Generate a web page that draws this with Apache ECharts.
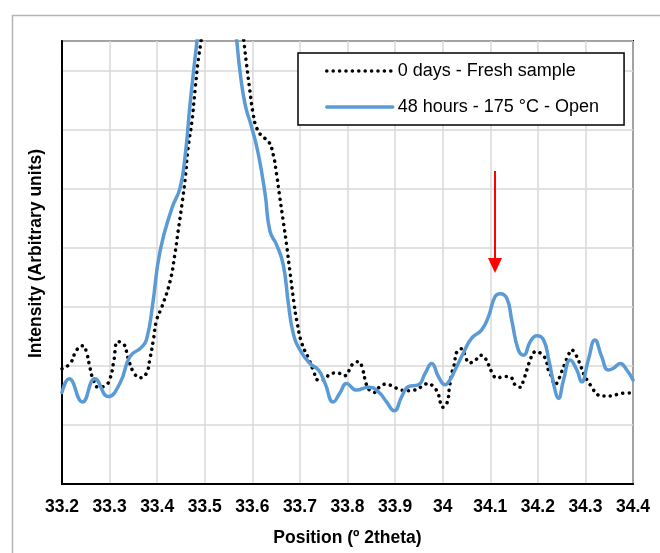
<!DOCTYPE html>
<html>
<head>
<meta charset="utf-8">
<script src="https://cdn.jsdelivr.net/npm/echarts@6/dist/echarts.min.js"></script>
<style>
html,body{margin:0;padding:0;background:#fff;}
#chart{width:660px;height:553px;}
</style>
</head>
<body>
<div id="chart"></div>
<script>
// Tick labels
const xTickLabels = ['33.2','33.3','33.4','33.5','33.6','33.7','33.8','33.9','34','34.1','34.2','34.3','34.4'];

// Series names
const seriesNames = ['0 days - Fresh sample', '48 hours - 175 °C - Open'];

// 0 days - Fresh sample (black dotted)
const freshX = [33.200,33.217,33.231,33.244,33.252,33.259,33.266,33.276,33.290,33.301,33.308,33.318,33.329,33.339,33.350,33.364,33.377,33.385,33.392,33.399,33.410,33.427,33.437,33.444,33.452,33.459,33.465,33.473,33.480,33.486,33.492,33.538,33.583,33.588,33.595,33.602,33.609,33.620,33.634,33.644,33.651,33.658,33.665,33.672,33.679,33.688,33.693,33.704,33.718,33.728,33.739,33.751,33.763,33.779,33.793,33.804,33.812,33.823,33.832,33.839,33.846,33.856,33.867,33.881,33.896,33.912,33.926,33.940,33.954,33.970,33.980,33.990,33.994,34.000,34.009,34.014,34.019,34.024,34.030,34.040,34.047,34.056,34.068,34.080,34.091,34.098,34.105,34.114,34.128,34.142,34.152,34.163,34.170,34.180,34.185,34.196,34.208,34.217,34.222,34.229,34.236,34.243,34.250,34.257,34.264,34.271,34.278,34.285,34.291,34.299,34.306,34.315,34.324,34.338,34.353,34.369,34.385,34.400];
const freshY = [1.95,2.04,2.27,2.34,2.21,1.96,1.76,1.64,1.66,1.79,2.04,2.41,2.38,2.13,1.90,1.80,1.87,2.13,2.44,2.78,3.00,3.43,3.88,4.28,4.73,5.18,5.69,6.14,6.70,7.16,7.49,10.5,7.44,7.10,6.65,6.25,6.03,5.89,5.80,5.57,5.24,4.84,4.45,4.05,3.60,3.04,2.78,2.38,2.13,1.93,1.76,1.76,1.86,1.88,1.83,1.93,2.04,2.07,1.93,1.70,1.59,1.55,1.64,1.69,1.65,1.59,1.58,1.59,1.64,1.70,1.65,1.54,1.41,1.30,1.37,1.62,1.87,2.01,2.24,2.29,2.18,2.05,2.09,2.18,2.11,1.99,1.87,1.79,1.82,1.81,1.68,1.64,1.76,2.01,2.13,2.24,2.20,2.10,1.93,1.82,1.68,1.76,1.90,2.04,2.18,2.27,2.21,2.10,1.98,1.82,1.73,1.62,1.52,1.49,1.49,1.52,1.54,1.54];

// 48 hours - 175 °C - Open (blue solid)
const openX = [33.200,33.215,33.243,33.269,33.297,33.322,33.343,33.368,33.379,33.390,33.406,33.431,33.448,33.459,33.469,33.478,33.484,33.525,33.567,33.574,33.585,33.599,33.613,33.627,33.637,33.651,33.665,33.676,33.686,33.700,33.721,33.739,33.753,33.770,33.784,33.798,33.819,33.844,33.865,33.882,33.898,33.914,33.928,33.949,33.963,33.977,33.991,34.005,34.015,34.026,34.043,34.061,34.082,34.096,34.110,34.121,34.135,34.145,34.159,34.170,34.184,34.198,34.212,34.223,34.237,34.243,34.254,34.268,34.282,34.292,34.306,34.320,34.334,34.348,34.359,34.373,34.387,34.400];
const openY = [1.55,1.78,1.39,1.78,1.48,1.71,2.16,2.32,2.49,3.01,3.94,4.67,5.01,5.57,6.42,7.10,7.52,10.5,7.52,6.99,6.42,6.03,5.57,4.90,4.28,4.05,3.71,3.04,2.55,2.27,2.04,1.93,1.70,1.39,1.54,1.70,1.59,1.64,1.56,1.39,1.24,1.48,1.65,1.68,1.87,2.04,1.82,1.68,1.76,1.93,2.21,2.47,2.61,2.83,3.17,3.22,3.14,2.78,2.27,2.18,2.41,2.51,2.44,2.10,1.56,1.45,1.76,2.10,1.93,1.73,2.10,2.44,2.16,1.93,1.96,2.04,1.93,1.76];

// Arrow annotation (data coordinates)
const arrowX = 34.11;
const arrowYStart = 5.30;
const arrowYEnd = 3.70;

function zip(xs, ys) { return xs.map((x, i) => [x, ys[i]]); }

const FONT = '"Liberation Sans", Arial, sans-serif';
const dottedStyle = {color: '#000', width: 3.5, type: [0.1, 6.3], cap: 'round'};
const solidStyle = {color: '#5B9BD5', width: 3.5, type: 'solid', cap: 'round', join: 'round'};

const chart = echarts.init(document.getElementById('chart'), null, {renderer: 'canvas'});
chart.setOption({
  animation: false,
  backgroundColor: '#ffffff',
  graphic: [{
    type: 'rect',
    left: 10, top: 13,
    shape: {x: 0, y: 0, width: 700, height: 600},
    style: {fill: 'none', stroke: '#b5b5b5', lineWidth: 1.5},
    silent: true,
    z: -10
  }],
  grid: {
    left: 62, top: 41, right: 27, bottom: 69,
    show: true, borderColor: '#000', borderWidth: 2, backgroundColor: 'transparent',
    containLabel: false
  },
  legend: {
    orient: 'vertical',
    left: 298, top: 53,
    padding: [9, 25, 9, 27],
    itemWidth: 66, itemHeight: 18, itemGap: 18,
    backgroundColor: '#fff',
    borderColor: '#000', borderWidth: 1.5,
    itemStyle: {opacity: 0},
    textStyle: {fontFamily: FONT, fontSize: 18, color: '#000'},
    data: [
      {name: seriesNames[0], lineStyle: dottedStyle},
      {name: seriesNames[1], lineStyle: solidStyle}
    ]
  },
  xAxis: {
    type: 'value', min: 33.2, max: 34.4, interval: 0.1,
    name: 'Position (º 2theta)', nameLocation: 'middle', nameGap: 45,
    nameTextStyle: {fontFamily: FONT, fontSize: 17.5, fontWeight: 'bold', color: '#000'},
    axisLine: {show: true, lineStyle: {color: '#000', width: 2}},
    axisTick: {show: false},
    axisLabel: {
      margin: 14, fontFamily: FONT, fontSize: 17.5, fontWeight: 'bold', color: '#000',
      formatter: v => xTickLabels[Math.round((v - 33.2) / 0.1)] || ''
    },
    splitLine: {show: true, lineStyle: {color: '#d9d9d9', width: 1.5}}
  },
  yAxis: {
    type: 'value', min: 0, max: 7.5, interval: 1,
    name: 'Intensity (Arbitrary units)', nameLocation: 'middle', nameGap: 17,
    nameTextStyle: {fontFamily: FONT, fontSize: 17.5, fontWeight: 'bold', color: '#000', padding: [0, 0, 0, 18]},
    axisLine: {show: true, lineStyle: {color: '#000', width: 2}},
    axisTick: {show: false},
    axisLabel: {show: false},
    splitLine: {show: true, lineStyle: {color: '#d9d9d9', width: 1.5}}
  },
  series: [{
    name: seriesNames[0],
    type: 'line',
    data: zip(freshX, freshY),
    smooth: 0.5,
    symbol: 'none',
    clip: true,
    lineStyle: dottedStyle,
    itemStyle: {color: '#000'},
    z: 2
  }, {
    name: seriesNames[1],
    type: 'line',
    data: zip(openX, openY),
    smooth: 0.5,
    symbol: 'none',
    clip: true,
    lineStyle: solidStyle,
    itemStyle: {color: '#5B9BD5'},
    z: 3,
    markLine: {
      silent: true,
      symbol: ['none', 'triangle'],
      symbolSize: [14, 15],
      label: {show: false},
      lineStyle: {color: '#ff0000', width: 2, type: 'solid'},
      itemStyle: {color: '#ff0000'},
      emphasis: {disabled: true},
      data: [[{coord: [arrowX, arrowYStart]}, {coord: [arrowX, arrowYEnd]}]]
    }
  }]
});
</script>
</body>
</html>
